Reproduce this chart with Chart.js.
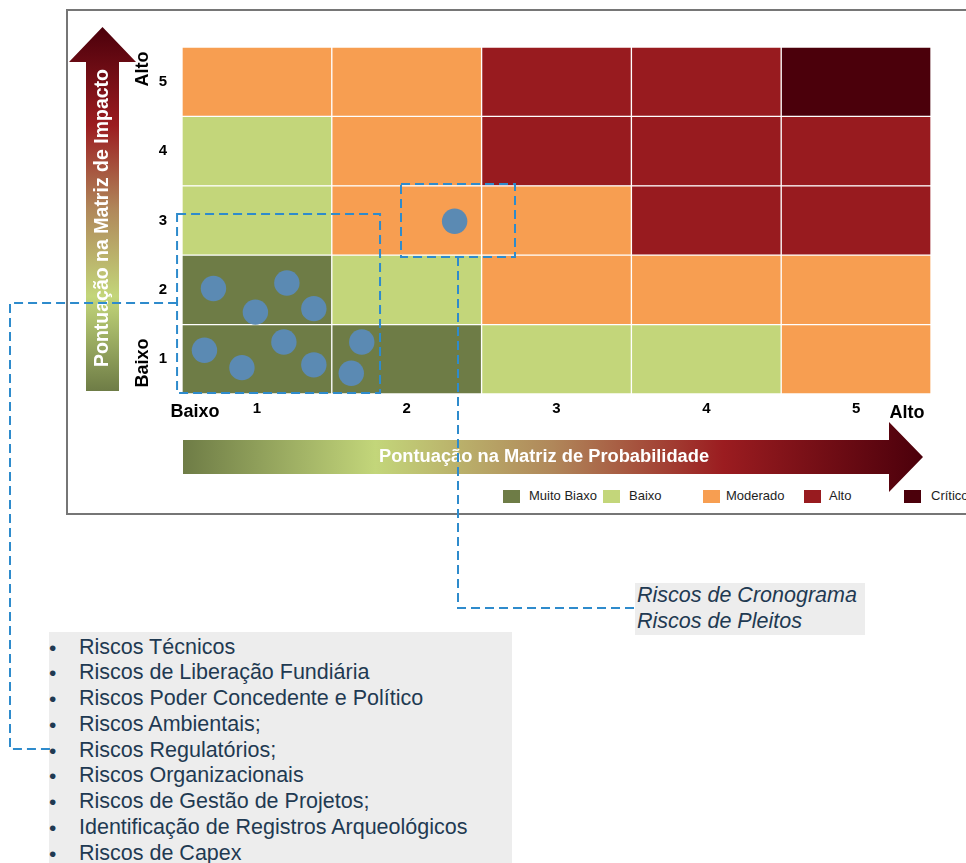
<!DOCTYPE html>
<html>
<head>
<meta charset="utf-8">
<script src="https://cdn.jsdelivr.net/npm/chart.js@4.4.1/dist/chart.umd.min.js"></script>
<style>
  html, body { margin:0; padding:0; background:#fff; }
  body { width:966px; height:863px; position:relative; overflow:hidden; font-family:"Liberation Sans", Arial, sans-serif; }
  #frame { position:absolute; left:66px; top:9px; width:940px; height:502px; border:2px solid #767676; box-sizing:content-box; }
  .lg { position:absolute; top:490px; height:13px; }
  .lgsq { position:absolute; width:17px; height:13px; }
  .lgtx { position:absolute; top:-2px; font-size:13px; color:#1e1e1e; white-space:nowrap; }
  #listBox { position:absolute; left:49px; top:632px; width:463px; height:240px; background:#ededed; }
  #listBox ul { list-style:none; margin:0; padding:2.5px 0 0 0; }
  #listBox li { position:relative; font-size:21.5px; line-height:25.8px; color:#1f3a52; padding-left:30px; white-space:nowrap; }
  #listBox li::before { content:"•"; position:absolute; left:0px; top:0; font-size:21px; color:#1f3a52; }
  #sideBox { position:absolute; left:635px; top:583px; width:230px; height:52px; background:#ededed; }
  #sideBox div { font-style:italic; font-size:21.5px; line-height:25.5px; color:#1f3a52; padding-left:2px; white-space:nowrap; }
  #wrap { position:absolute; left:0; top:0; width:966px; height:863px; pointer-events:none; }
</style>
</head>
<body>
<div id="frame"></div>
<div id="legend"></div>
<div id="listBox"><ul id="list"></ul></div>
<div id="sideBox"></div>
<div id="wrap"><canvas id="c"></canvas></div>
<script>
// ---------------- DATA ----------------
const probTicks = [1, 2, 3, 4, 5];          // x axis: Pontuação na Matriz de Probabilidade
const impactTicks = [1, 2, 3, 4, 5];        // y axis: Pontuação na Matriz de Impacto
const levelNames = ['Muito Biaxo', 'Baixo', 'Moderado', 'Alto', 'Crítico'];
// risk level index per cell, one array per impact row (impact 1 .. 5), columns = probability 1..5
const impact1 = [0, 0, 1, 1, 2];
const impact2 = [0, 1, 2, 2, 2];
const impact3 = [1, 2, 2, 3, 3];
const impact4 = [1, 2, 3, 3, 3];
const impact5 = [2, 2, 3, 3, 4];
const matrixRows = [impact1, impact2, impact3, impact4, impact5];
// risks plotted (probability, impact)
const riskProb   = [0.71, 0.99, 1.20, 1.38, 0.65, 0.90, 1.18, 1.38, 1.70, 1.63, 2.32];
const riskImpact = [2.02, 1.68, 2.10, 1.73, 1.13, 0.88, 1.25, 0.92, 1.25, 0.80, 2.99];
// highlighted groups (probability range, impact range)
const groupA = { x: [0.467, 1.822], y: [0.514, 3.094] };
const groupB = { x: [1.962, 2.723], y: [2.474, 3.526] };
const groupAList = ['Riscos Técnicos', 'Riscos de Liberação Fundiária', 'Riscos Poder Concedente e Político',
  'Riscos Ambientais;', 'Riscos Regulatórios;', 'Riscos Organizacionais', 'Riscos de Gestão de Projetos;',
  'Identificação de Registros Arqueológicos', 'Riscos de Capex'];
const groupBList = ['Riscos de Cronograma', 'Riscos de Pleitos'];
const axisLow = 'Baixo', axisHigh = 'Alto';
const xTitle = 'Pontuação na Matriz de Probabilidade';
const yTitle = 'Pontuação na Matriz de Impacto';

// ---------------- STYLE ----------------
const levelColors = ['#6e7c46', '#c3d67a', '#f79e51', '#981b1f', '#4b000b'];
const bubbleColor = '#5b8ab3';
const dashColor = '#2e8bcc';

// legend (HTML)
const legendX = [503, 603, 703, 804, 904];
const legendTextX = [529, 629, 726, 829, 931];
const legendEl = document.getElementById('legend');
levelNames.forEach((n, i) => {
  const sq = document.createElement('div');
  sq.className = 'lg lgsq'; sq.style.left = legendX[i] + 'px'; sq.style.background = levelColors[i];
  const tx = document.createElement('div');
  tx.className = 'lg'; tx.style.left = legendTextX[i] + 'px';
  tx.innerHTML = '<span class="lgtx" style="left:0">' + n + '</span>';
  legendEl.appendChild(sq); legendEl.appendChild(tx);
});
document.getElementById('list').innerHTML = groupAList.map(t => '<li>' + t + '</li>').join('');
document.getElementById('sideBox').innerHTML = groupBList.map(t => '<div>' + t + '</div>').join('');

// ---------------- DATASETS ----------------
const cellDatasets = matrixRows.map((row, ri) => ({
  type: 'bar',
  label: 'Impacto ' + impactTicks[ri],
  data: probTicks.map(p => ({ x: p, y: [impactTicks[ri] - 0.5, impactTicks[ri] + 0.5] })),
  backgroundColor: row.map(l => levelColors[l]),
  borderColor: '#ffffff',
  borderWidth: 1,
  borderSkipped: false,
  grouped: false,
  barPercentage: 1,
  categoryPercentage: 1,
  order: 1
}));
const riskDataset = {
  type: 'scatter',
  label: 'Riscos',
  data: riskProb.map((p, i) => ({ x: p, y: riskImpact[i] })),
  backgroundColor: bubbleColor,
  borderWidth: 0,
  pointRadius: 12.7,
  pointHoverRadius: 12.7,
  order: 0
};

function gradStops(g) {
  g.addColorStop(0, '#6e7c46');
  g.addColorStop(0.26, '#c3d67a');
  g.addColorStop(0.5, '#b0875a');
  g.addColorStop(0.73, '#9b1c20');
  g.addColorStop(1, '#4b000b');
  return g;
}

const decor = {
  id: 'decor',
  beforeDatasetsDraw(chart) {
    const ctx = chart.ctx;
    ctx.save();
    // vertical arrow (impact)
    let g = gradStops(ctx.createLinearGradient(0, 391, 0, 27));
    ctx.fillStyle = g;
    ctx.beginPath();
    ctx.moveTo(86, 391); ctx.lineTo(86, 62); ctx.lineTo(69, 62); ctx.lineTo(102.5, 27);
    ctx.lineTo(136, 62); ctx.lineTo(119, 62); ctx.lineTo(119, 391); ctx.closePath(); ctx.fill();
    // horizontal arrow (probability)
    g = gradStops(ctx.createLinearGradient(183, 0, 923, 0));
    ctx.fillStyle = g;
    ctx.beginPath();
    ctx.moveTo(183, 440); ctx.lineTo(889, 440); ctx.lineTo(889, 422); ctx.lineTo(923, 457);
    ctx.lineTo(889, 492); ctx.lineTo(889, 474); ctx.lineTo(183, 474); ctx.closePath(); ctx.fill();
    // arrow titles
    ctx.fillStyle = '#ffffff';
    ctx.textAlign = 'center'; ctx.textBaseline = 'middle';
    ctx.font = 'bold 18.3px "Liberation Sans", Arial, sans-serif';
    ctx.fillText(xTitle, 544, 457);
    ctx.font = 'bold 19.5px "Liberation Sans", Arial, sans-serif';
    ctx.save(); ctx.translate(103, 218); ctx.rotate(-Math.PI / 2); ctx.fillText(yTitle, 0, 0); ctx.restore();
    // low / high labels
    ctx.fillStyle = '#000000';
    ctx.font = 'bold 18px "Liberation Sans", Arial, sans-serif';
    ctx.fillText(axisLow, 195, 412);
    ctx.fillText(axisHigh, 907, 413);
    ctx.save(); ctx.translate(143, 363); ctx.rotate(-Math.PI / 2); ctx.fillText(axisLow, 0, 0); ctx.restore();
    ctx.save(); ctx.translate(143, 69); ctx.rotate(-Math.PI / 2); ctx.fillText(axisHigh, 0, 0); ctx.restore();
    ctx.restore();
  },
  afterDatasetsDraw(chart) {
    const ctx = chart.ctx, xs = chart.scales.x, ys = chart.scales.y;
    ctx.save();
    ctx.strokeStyle = dashColor; ctx.lineWidth = 2; ctx.setLineDash([9, 5]);
    const box = (gp) => {
      const l = xs.getPixelForValue(gp.x[0]), r = xs.getPixelForValue(gp.x[1]);
      const t = ys.getPixelForValue(gp.y[1]), b = ys.getPixelForValue(gp.y[0]);
      ctx.strokeRect(l, t, r - l, b - t);
      return { l, r, t, b };
    };
    const a = box(groupA), bb = box(groupB);
    // connectors
    const aMid = 303;
    ctx.beginPath();
    ctx.moveTo(a.l, aMid); ctx.lineTo(10, aMid); ctx.lineTo(10, 749); ctx.lineTo(53, 749);
    ctx.stroke();
    const bx = 458;
    ctx.beginPath();
    ctx.moveTo(bx, bb.b); ctx.lineTo(bx, 608); ctx.lineTo(636, 608);
    ctx.stroke();
    ctx.restore();
  }
};

const tickFont = { family: '"Liberation Sans", Arial, sans-serif', size: 15, weight: 'bold' };

new Chart(document.getElementById('c'), {
  type: 'bar',
  data: { datasets: [riskDataset, ...cellDatasets] },
  options: {
    responsive: true,
    maintainAspectRatio: false,
    animation: false,
    events: [],
    layout: { padding: { left: 0, top: 47, right: 35, bottom: 0 } },
    plugins: { legend: { display: false }, tooltip: { enabled: false } },
    scales: {
      x: {
        type: 'linear', min: 0.5, max: 5.5, offset: false,
        grid: { display: false, drawTicks: false, offset: false }, border: { display: false },
        ticks: { stepSize: 1, font: tickFont, color: '#000', padding: 6 },
        afterBuildTicks: s => { s.ticks = probTicks.map(v => ({ value: v })); },
        afterFit: s => { s.height = 469; }
      },
      y: {
        type: 'linear', min: 0.5, max: 5.5, beginAtZero: false,
        grid: { display: false, drawTicks: false }, border: { display: false },
        ticks: { stepSize: 1, font: tickFont, color: '#000', padding: 15 },
        afterBuildTicks: s => { s.ticks = impactTicks.map(v => ({ value: v })); },
        afterFit: s => { s.height; s.width = 182; }
      }
    }
  },
  plugins: [decor]
});
</script>
</body>
</html>
